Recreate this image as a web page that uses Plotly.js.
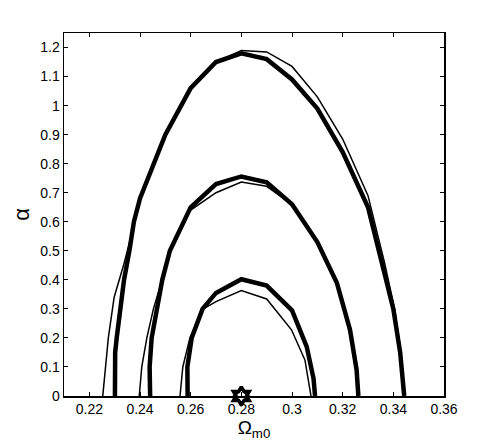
<!DOCTYPE html>
<html>
<head>
<meta charset="utf-8">
<script src="https://cdn.plot.ly/plotly-3.0.1.min.js"></script>
<style>html,body{margin:0;padding:0;background:#fff;}#chart{width:491px;height:446px;}</style>
</head>
<body>
<div id="chart"></div>
<script>
// Outer contour (thick and thin)
const outerThickX = [0.2301, 0.2302, 0.2308, 0.2321, 0.2337, 0.2358, 0.2376, 0.24, 0.25, 0.26, 0.27, 0.28, 0.29, 0.30, 0.31, 0.32, 0.33, 0.336, 0.34, 0.3427, 0.3443];
const outerThickY = [0, 0.15, 0.2, 0.3, 0.4, 0.5, 0.6, 0.68, 0.9, 1.06, 1.15, 1.18, 1.16, 1.09, 0.99, 0.84, 0.65, 0.44, 0.3, 0.15, 0];
const outerThinX = [0.2253, 0.2275, 0.2298, 0.2335, 0.2365, 0.24, 0.25, 0.26, 0.27, 0.28, 0.29, 0.30, 0.31, 0.32, 0.33, 0.3365, 0.3405, 0.343, 0.3440];
const outerThinY = [0, 0.2, 0.34, 0.45, 0.55, 0.68, 0.9, 1.06, 1.15, 1.19, 1.185, 1.135, 1.03, 0.885, 0.69, 0.46, 0.3, 0.15, 0];
// Middle contour
const midThickX = [0.2440, 0.2438, 0.2446, 0.2466, 0.2488, 0.2518, 0.2571, 0.26, 0.27, 0.28, 0.29, 0.30, 0.31, 0.3177, 0.3229, 0.3255, 0.3262];
const midThickY = [0, 0.1, 0.2, 0.3, 0.4, 0.5, 0.6, 0.65, 0.73, 0.756, 0.736, 0.66, 0.53, 0.39, 0.228, 0.09, 0];
const midThinX = [0.2397, 0.2407, 0.2427, 0.2453, 0.2487, 0.2518, 0.257, 0.26, 0.27, 0.28, 0.29, 0.30, 0.31, 0.3175, 0.3226, 0.3252, 0.3258];
const midThinY = [0, 0.1, 0.2, 0.3, 0.4, 0.5, 0.6, 0.64, 0.70, 0.737, 0.722, 0.66, 0.53, 0.39, 0.228, 0.09, 0];
// Inner contour
const innerThickX = [0.2588, 0.2587, 0.2604, 0.2647, 0.27, 0.28, 0.29, 0.30, 0.3058, 0.3085, 0.3091];
const innerThickY = [0, 0.1, 0.2, 0.3, 0.355, 0.402, 0.38, 0.295, 0.17, 0.06, 0];
const innerThinX = [0.2558, 0.2569, 0.2597, 0.265, 0.27, 0.28, 0.29, 0.2998, 0.3051, 0.3075];
const innerThinY = [0, 0.1, 0.2, 0.3, 0.325, 0.363, 0.334, 0.228, 0.124, 0];
// Best-fit markers
const bestX = [0.28];
const bestY = [0];

const thick = {color: '#000', width: 4.5};
const thin = {color: '#000', width: 1.5};
const traces = [
  {x: outerThinX, y: outerThinY, mode: 'lines', line: thin},
  {x: midThinX, y: midThinY, mode: 'lines', line: thin},
  {x: innerThinX, y: innerThinY, mode: 'lines', line: thin},
  {x: outerThickX, y: outerThickY, mode: 'lines', line: thick},
  {x: midThickX, y: midThickY, mode: 'lines', line: thick},
  {x: innerThickX, y: innerThickY, mode: 'lines', line: thick},
  {x: bestX, y: bestY, mode: 'markers', cliponaxis: false,
   marker: {symbol: 'hexagram-open', size: 14, color: '#000', line: {color: '#000', width: 3.5}}},
  {x: bestX, y: bestY, mode: 'markers', cliponaxis: false,
   marker: {symbol: 'diamond-open', size: 11, color: '#000', line: {color: '#000', width: 2.5}}}
];

const axisCommon = {
  showgrid: false, zeroline: false, showline: true, mirror: 'ticks',
  linecolor: '#000', linewidth: 1.5, ticks: 'inside', ticklen: 4, tickwidth: 1, tickcolor: '#000',
  tickfont: {family: 'Liberation Sans, Arial, sans-serif', size: 14, color: '#000'}
};
const layout = {
  width: 491, height: 446,
  margin: {l: 64, r: 47, t: 33, b: 50},
  paper_bgcolor: '#fff', plot_bgcolor: '#fff',
  showlegend: false,
  xaxis: Object.assign({}, axisCommon, {
    range: [0.21, 0.36], tickvals: [0.22,0.24,0.26,0.28,0.30,0.32,0.34,0.36],
    ticktext: ['0.22','0.24','0.26','0.28','0.3','0.32','0.34','0.36'],
    title: {text: 'Ω<sub>m0</sub>', font: {family: 'Liberation Sans, Arial, sans-serif', size: 19, color: '#000'}, standoff: 0}
  }),
  yaxis: Object.assign({}, axisCommon, {
    range: [0, 1.25], tickvals: [0,0.1,0.2,0.3,0.4,0.5,0.6,0.7,0.8,0.9,1,1.1,1.2],
    ticktext: ['0','0.1','0.2','0.3','0.4','0.5','0.6','0.7','0.8','0.9','1','1.1','1.2'],
    title: {text: 'α', font: {family: 'Liberation Sans, Arial, sans-serif', size: 22, color: '#000'}, standoff: 4}
  })
};
Plotly.newPlot('chart', traces, layout, {displayModeBar: false, staticPlot: true});
</script>
</body>
</html>
